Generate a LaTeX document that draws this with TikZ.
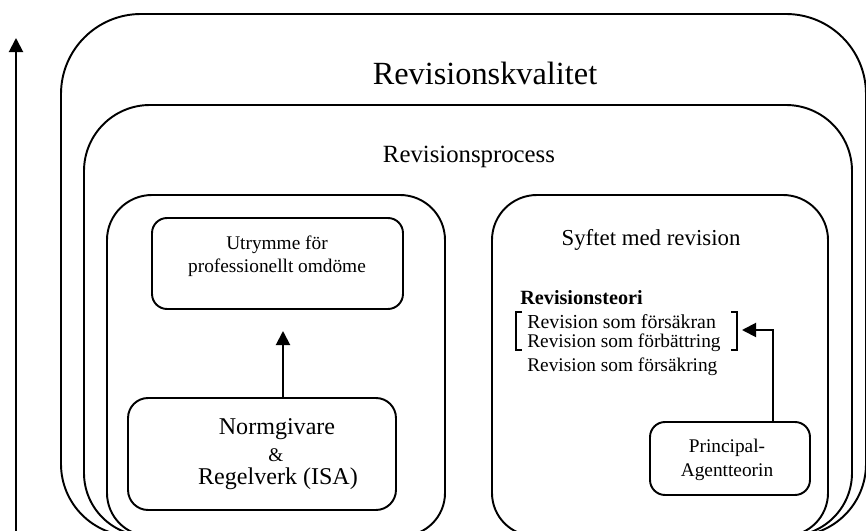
\documentclass[tikz,border=0pt]{standalone}
\usepackage{fontspec}
\setmainfont{Liberation Serif}
\usetikzlibrary{arrows.meta}
\tikzset{
  frame/.style={line width=1.1pt},
  smallbox/.style={draw, line width=1.1pt, inner sep=0pt},
  conn/.style={line width=1.1pt, -{Triangle[length=8pt,width=8pt]}},
  bracketline/.style={line width=1.1pt},
  txt/.style={font=\fontsize{11}{13}\selectfont, inner sep=0pt},
}
\newcommand\rrframe[6]{\draw[frame] (#1,{#4+#6}) -- (#1,{#2-#5}) arc[start angle=180,end angle=90,radius=#5] -- ({#3-#5},#2) arc[start angle=90,end angle=0,radius=#5] -- (#3,{#4+#6}) arc[start angle=0,end angle=-90,radius=#6] -- ({#1+#6},#4) arc[start angle=270,end angle=180,radius=#6] -- cycle;}
\begin{document}
\begin{tikzpicture}[x=0.02cm,y=0.02cm]
\useasboundingbox (0,0) rectangle (866,531);
\clip (0,0) rectangle (866,531);
% frames
\rrframe{61}{517}{866}{-5}{80}{72}
\rrframe{84}{426}{852}{-5}{66}{63}
\rrframe{107}{336}{445}{-5}{45}{43}
\rrframe{492}{336}{828}{-5}{45}{43}
% titles
\node[font=\fontsize{18.4}{22}\selectfont, inner sep=0pt] (kval) at (485,458) {Revisionskvalitet};
\node[font=\fontsize{14.1}{17}\selectfont, inner sep=0pt] (proc) at (469,374) {Revisionsprocess};
\node[font=\fontsize{13}{16}\selectfont, inner sep=0pt] (syfte) at (651,291) {Syftet med revision};
% left inner boxes
\node[smallbox, rounded corners=0.3cm, minimum width=5.02cm, minimum height=1.82cm] (utr) at (277.5,267.5) {};
\node[txt, align=center] (utrtxt) at (277,274.5) {Utrymme för\\professionellt omdöme};
\node[smallbox, rounded corners=0.4cm, minimum width=5.36cm, minimum height=2.24cm] (norm) at (262,77) {};
\node[font=\fontsize{13.7}{16}\selectfont, inner sep=0pt] (normtxt) at (277,102) {Normgivare};
\node[txt] (amp) at (276,76) {\&};
\node[font=\fontsize{13.7}{16}\selectfont, inner sep=0pt] (regtxt) at (278,52) {Regelverk (ISA)};
% right inner
\node[txt, anchor=west, font=\bfseries\fontsize{11.5}{13}\selectfont] (teori) at (520,233) {Revisionsteori};
\node[txt, anchor=west, font=\fontsize{11.3}{13}\selectfont] (r1) at (527,209) {Revision som försäkran};
\node[txt, anchor=west] (r2) at (527,188) {Revision som förbättring};
\node[txt, anchor=west] (r3) at (527,164) {Revision som försäkring};
\draw[bracketline] (522,219) -- (516,219) -- (516,181) -- (522,181);
\draw[bracketline] (731,219) -- (737,219) -- (737,181) -- (731,181);
\node[smallbox, rounded corners=0.3cm, minimum width=3.2cm, minimum height=1.46cm] (princ) at (730,72.5) {};
\node[txt, align=center, font=\fontsize{11}{13.6}\selectfont] (princtxt) at (727,71) {Principal-\\Agentteorin};
% connectors
\coordinate (utrin) at (283,200);
\draw[conn] (norm.north -| utrin) -- (utrin);
\coordinate (pcol) at (773,0);
\coordinate (brk) at (742,201);
\draw[conn] (princ.north -| pcol) |- (brk);
\coordinate (abot) at (16,-2);
\coordinate (atop) at (16,493);
\draw[conn] (abot) -- (atop);
\end{tikzpicture}
\end{document}
